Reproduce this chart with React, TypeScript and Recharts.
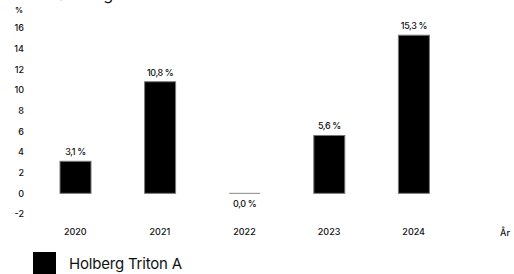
import React from 'react';
import { BarChart, Bar, XAxis, YAxis } from 'recharts';

const years = ['2020', '2021', '2022', '2023', '2024'];
const returns = [3.1, 10.8, 0.0, 5.6, 15.3];
const yTicks = [-2, 0, 2, 4, 6, 8, 10, 12, 14, 16];
const seriesName = 'Holberg Triton A';
const title = 'Avkastning';
const xAxisTitle = 'År';
const yUnit = '%';

const data = years.map((y, i) => ({ year: y, value: returns[i] }));

const FONT = 'Inter, "Noto Sans", sans-serif';

const fmt = (v: number) => v.toFixed(1).replace('.', ',') + ' %';

const BarShape = (props: any) => {
  const { x, y, width, height, value } = props;
  const v = Array.isArray(value) ? value[1] - value[0] : value;
  const cx = x + width / 2;
  const isZero = Math.abs(v) < 1e-9 || Math.abs(height) < 0.5;
  const top = Math.min(y, y + height);
  const h = Math.abs(height);
  return (
    <g>
      {isZero ? (
        <line x1={x} x2={x + width} y1={y} y2={y} stroke="#888" strokeWidth={1} />
      ) : (
        <rect x={x} y={top} width={width} height={h} fill="#000" stroke="#777" strokeWidth={1} />
      )}
      <text
        x={cx}
        y={isZero ? y + 14 : top - 6}
        textAnchor="middle"
        fontSize={9}
        fontWeight={500}
        fill="#111"
        fontFamily={FONT}
        letterSpacing={-0.4}
      >
        {fmt(v)}
      </text>
    </g>
  );
};

export default function App() {
  return (
    <div style={{ position: 'fixed', left: 0, top: 0, width: 514, height: 274, overflow: 'hidden', background: '#fff' }}>
      <div style={{ position: 'absolute', left: 30, top: -15, fontFamily: FONT, fontSize: 16, color: '#111', lineHeight: '19px' }}>{title}</div>
      <div style={{ position: 'absolute', left: 15, top: 5, fontFamily: FONT, fontSize: 8, color: '#111', fontWeight: 600 }}>{yUnit}</div>
      <BarChart width={514} height={274} data={data} margin={{ top: 28, right: 58, bottom: 30, left: 0 }}>
        <YAxis
          domain={[-2, 16]}
          ticks={yTicks}
          axisLine={false}
          tickLine={false}
          tickSize={0}
          tickMargin={9}
          width={33}
          tick={{ fontSize: 9, fill: '#111', fontFamily: FONT, fontWeight: 500 }}
          interval={0}
        />
        <XAxis
          dataKey="year"
          axisLine={false}
          tickLine={false}
          tickSize={0}
          tickMargin={15}
          height={30}
          tick={{ fontSize: 9, fill: '#111', fontFamily: FONT, fontWeight: 500 }}
          label={(p: any) => {
            const vb = p.viewBox || {};
            return (
              <text x={vb.x + vb.width + 44} y={vb.y + 22} textAnchor="start" fontSize={9} fontWeight={500} fill="#111" fontFamily={FONT}>
                {xAxisTitle}
              </text>
            );
          }}
        />
        <Bar dataKey="value" name={seriesName} fill="#000" barSize={31} isAnimationActive={false} shape={<BarShape />} />
      </BarChart>
      <div style={{ position: 'absolute', left: 33, top: 252, display: 'flex', alignItems: 'center', fontFamily: FONT }}>
        <div style={{ width: 23, height: 22, background: '#000' }} />
        <span style={{ marginLeft: 13, fontSize: 15, color: '#111', letterSpacing: -0.2 }}>{seriesName}</span>
      </div>
    </div>
  );
}
